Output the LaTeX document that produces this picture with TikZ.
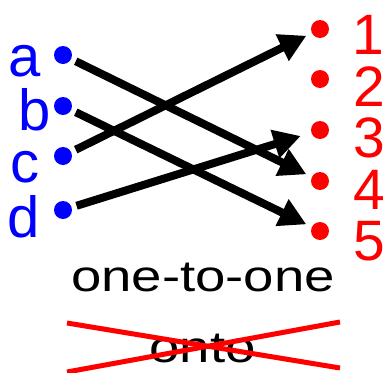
\documentclass[tikz,border=0pt]{standalone}
\usepackage{fontspec}
\setmainfont{Liberation Sans}
\usetikzlibrary{arrows.meta}
\definecolor{myblue}{RGB}{0,0,255}
\definecolor{myred}{RGB}{255,0,0}
\tikzset{
  bdot/.style={circle,fill=myblue,inner sep=0pt,minimum size=18pt},
  rdot/.style={circle,fill=myred,inner sep=0pt,minimum size=18pt},
  blab/.style={anchor=base,inner sep=0pt,text=myblue,font=\fontsize{58}{60}\selectfont},
  rlab/.style={anchor=base,inner sep=0pt,text=myred,font=\fontsize{57}{58}\selectfont},
  btext/.style={anchor=base,inner sep=0pt,xscale=1.24,font=\fontsize{44}{46}\selectfont},
  arr/.style={line width=8pt,-{Triangle[length=27pt,width=28pt]},shorten <=5pt,shorten >=6pt},
  cross/.style={draw=myred,line width=5pt}
}
\begin{document}
\begin{tikzpicture}[x=1pt,y=-1pt]
\useasboundingbox (0,0) rectangle (384,373);
% left dots and labels
\node[bdot] (da) at (63,55) {};
\node[bdot] (db) at (63,106) {};
\node[bdot] (dc) at (63,156) {};
\node[bdot] (dd) at (63,210) {};
\node[blab] (la) at (25,76) {a};
\node[blab] (lb) at (34.5,130) {b};
\node[blab] (lc) at (25,182) {c};
\node[blab] (ld) at (23.5,237) {d};
% right dots and labels
\node[rdot] (r1) at (320,29) {};
\node[rdot] (r2) at (320,79) {};
\node[rdot] (r3) at (320,130) {};
\node[rdot] (r4) at (320,181) {};
\node[rdot] (r5) at (320,231) {};
\node[rlab] (n1) at (368,54) {1};
\node[rlab] (n2) at (369,106) {2};
\node[rlab] (n3) at (369,157) {3};
\node[rlab] (n4) at (369,209) {4};
\node[rlab] (n5) at (369,260) {5};
% arrows
\draw[arr] (da) -- (r4);
\draw[arr] (db) -- (r5);
\draw[arr] (dc) -- (r1);
\draw[arr,shorten >=11pt] (dd) -- (r3);
% bottom texts
\node[btext] (t1) at (203,291) {one-to-one};
\node[btext] (t2) at (202.5,362) {onto};
% red cross
\coordinate (x1) at (67,323);
\coordinate (x2) at (340,368);
\coordinate (x3) at (67,372);
\coordinate (x4) at (340,322);
\draw[cross] (x1) -- (x2);
\draw[cross] (x3) -- (x4);
\end{tikzpicture}
\end{document}
